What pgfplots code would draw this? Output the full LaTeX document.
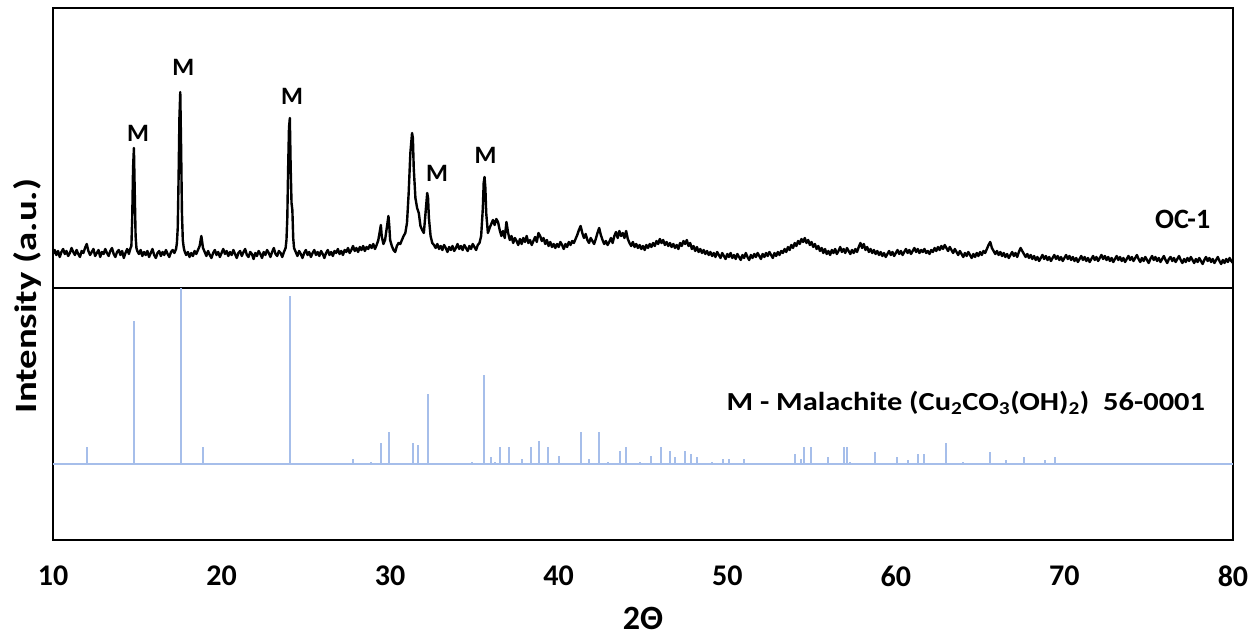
\documentclass[border=0pt]{standalone}
\usepackage{fontspec}
\setmainfont{Carlito}
\usepackage{graphicx}
\usepackage{pgfplots}
\pgfplotsset{compat=1.18}
\definecolor{stick}{RGB}{166,190,234}

\pgfplotstableread[row sep=\\]{
x y\\
10.0 34\\ 10.1 38\\ 10.2 33\\ 10.3 37\\ 10.4 31\\ 10.5 36\\ 10.6 39\\ 10.7 34\\ 10.8 37\\ 10.9 32\\
11.0 35\\ 11.1 40\\ 11.2 36\\ 11.3 33\\ 11.4 38\\ 11.5 34\\ 11.6 31\\ 11.7 37\\ 11.8 35\\ 11.9 40\\
12.0 44\\ 12.1 37\\ 12.2 33\\ 12.3 36\\ 12.4 39\\ 12.5 32\\ 12.6 35\\ 12.7 38\\ 12.8 31\\ 12.9 36\\
13.0 34\\ 13.1 39\\ 13.2 35\\ 13.3 32\\ 13.4 37\\ 13.5 40\\ 13.6 34\\ 13.7 31\\ 13.8 36\\ 13.9 38\\
14.0 33\\ 14.1 37\\ 14.2 30\\ 14.3 35\\ 14.4 39\\ 14.5 34\\ 14.6 40\\
14.65 42\\ 14.70 70\\ 14.75 120\\ 14.80 140\\ 14.85 95\\ 14.90 52\\ 14.95 40\\
15.0 37\\ 15.1 34\\ 15.2 38\\ 15.3 32\\ 15.4 36\\ 15.5 33\\ 15.6 37\\ 15.7 31\\ 15.8 35\\ 15.9 39\\
16.0 33\\ 16.1 30\\ 16.2 35\\ 16.3 37\\ 16.4 32\\ 16.5 36\\ 16.6 33\\ 16.7 38\\ 16.8 34\\ 16.9 31\\
17.0 36\\ 17.1 38\\ 17.2 35\\ 17.3 39\\ 17.35 45\\ 17.40 60\\ 17.45 110\\ 17.50 170\\ 17.55 196\\
17.60 140\\ 17.65 75\\ 17.70 48\\ 17.75 41\\ 17.8 37\\ 17.9 33\\
18.0 36\\ 18.1 31\\ 18.2 35\\ 18.3 32\\ 18.4 37\\ 18.5 34\\ 18.6 38\\ 18.7 42\\ 18.8 52\\ 18.9 40\\
19.0 36\\ 19.1 32\\ 19.2 37\\ 19.3 33\\ 19.4 30\\ 19.5 35\\ 19.6 38\\ 19.7 33\\ 19.8 36\\ 19.9 31\\
20.0 35\\ 20.1 39\\ 20.2 34\\ 20.3 37\\ 20.4 32\\ 20.5 36\\ 20.6 33\\ 20.7 38\\ 20.8 34\\ 20.9 30\\
21.0 35\\ 21.1 37\\ 21.2 32\\ 21.3 36\\ 21.4 39\\ 21.5 33\\ 21.6 31\\ 21.7 36\\ 21.8 34\\ 21.9 29\\
22.0 35\\ 22.1 32\\ 22.2 37\\ 22.3 34\\ 22.4 30\\ 22.5 36\\ 22.6 33\\ 22.7 38\\ 22.8 35\\ 22.9 31\\
23.0 36\\ 23.1 40\\ 23.2 34\\ 23.3 32\\ 23.4 37\\ 23.5 35\\ 23.6 31\\ 23.7 36\\ 23.8 40\\ 23.85 48\\
23.90 70\\ 23.95 120\\ 24.00 160\\ 24.05 170\\ 24.10 120\\ 24.15 85\\ 24.20 78\\ 24.25 50\\ 24.30 40\\
24.4 36\\ 24.5 32\\ 24.6 37\\ 24.7 34\\ 24.8 30\\ 24.9 35\\
25.0 38\\ 25.1 33\\ 25.2 36\\ 25.3 31\\ 25.4 35\\ 25.5 38\\ 25.6 33\\ 25.7 36\\ 25.8 32\\ 25.9 37\\
26.0 34\\ 26.1 30\\ 26.2 35\\ 26.3 38\\ 26.4 33\\ 26.5 36\\ 26.6 32\\ 26.7 37\\ 26.8 35\\ 26.9 39\\
27.0 34\\ 27.1 37\\ 27.2 33\\ 27.3 38\\ 27.4 36\\ 27.5 40\\ 27.6 35\\ 27.7 38\\ 27.8 42\\ 27.9 37\\
28.0 40\\ 28.1 36\\ 28.2 41\\ 28.3 38\\ 28.4 42\\ 28.5 37\\ 28.6 41\\ 28.7 39\\ 28.8 43\\ 28.9 40\\
29.0 44\\ 29.1 39\\ 29.2 43\\ 29.3 48\\ 29.4 58\\ 29.45 63\\ 29.5 52\\ 29.6 44\\ 29.7 48\\ 29.8 60\\
29.9 72\\ 29.95 62\\ 30.0 48\\ 30.1 42\\ 30.2 38\\ 30.3 36\\ 30.4 42\\ 30.5 45\\ 30.6 44\\ 30.7 48\\
30.8 52\\ 30.9 55\\ 31.0 65\\ 31.1 95\\ 31.2 135\\ 31.3 155\\ 31.35 150\\ 31.4 120\\ 31.5 90\\ 31.6 80\\
31.7 75\\ 31.8 62\\ 31.9 58\\ 32.0 55\\ 32.1 75\\ 32.2 95\\ 32.25 90\\ 32.3 70\\ 32.4 52\\ 32.5 45\\
32.6 43\\ 32.7 40\\ 32.8 44\\ 32.9 39\\ 33.0 42\\ 33.1 38\\ 33.2 43\\ 33.3 40\\ 33.4 36\\ 33.5 41\\
33.6 38\\ 33.7 42\\ 33.8 37\\ 33.9 40\\ 34.0 44\\ 34.1 39\\ 34.2 42\\ 34.3 38\\ 34.4 43\\ 34.5 40\\
34.6 37\\ 34.7 42\\ 34.8 39\\ 34.9 44\\ 35.0 41\\ 35.1 38\\ 35.2 43\\ 35.3 45\\ 35.4 52\\ 35.5 80\\
35.55 105\\ 35.6 111\\ 35.65 100\\ 35.7 75\\ 35.8 55\\ 35.9 60\\ 36.0 64\\ 36.1 68\\ 36.2 63\\ 36.3 69\\
36.4 66\\ 36.5 58\\ 36.6 52\\ 36.7 57\\ 36.8 50\\ 36.9 66\\ 37.0 55\\ 37.1 48\\ 37.2 52\\ 37.3 45\\
37.4 50\\ 37.5 47\\ 37.6 43\\ 37.7 49\\ 37.8 44\\ 37.9 50\\ 38.0 46\\ 38.1 52\\ 38.2 45\\ 38.3 48\\
38.4 43\\ 38.5 47\\ 38.6 51\\ 38.7 46\\ 38.8 55\\ 38.9 52\\ 39.0 47\\ 39.1 50\\ 39.2 44\\ 39.3 48\\
39.4 42\\ 39.5 46\\ 39.6 41\\ 39.7 44\\ 39.8 40\\ 39.9 44\\ 40.0 41\\ 40.1 46\\ 40.2 43\\ 40.3 39\\
40.4 44\\ 40.5 41\\ 40.6 46\\ 40.7 43\\ 40.8 47\\ 40.9 45\\ 41.0 49\\ 41.1 53\\ 41.2 58\\ 41.3 62\\
41.4 55\\ 41.5 50\\ 41.6 54\\ 41.7 48\\ 41.8 45\\ 41.9 50\\ 42.0 47\\ 42.1 44\\ 42.2 49\\ 42.3 55\\
42.4 60\\ 42.5 53\\ 42.6 48\\ 42.7 44\\ 42.8 47\\ 42.9 43\\ 43.0 46\\ 43.1 50\\ 43.2 45\\ 43.3 52\\
43.4 56\\ 43.5 50\\ 43.6 57\\ 43.7 52\\ 43.8 55\\ 43.9 50\\ 44.0 57\\ 44.1 49\\ 44.2 45\\ 44.3 42\\
44.4 46\\ 44.5 41\\ 44.6 44\\ 44.7 40\\ 44.8 43\\ 44.9 39\\ 45.0 42\\ 45.1 38\\ 45.2 43\\ 45.3 40\\
45.4 44\\ 45.5 41\\ 45.6 45\\ 45.7 42\\ 45.8 47\\ 45.9 44\\ 46.0 49\\ 46.1 45\\ 46.2 48\\ 46.3 43\\
46.4 46\\ 46.5 42\\ 46.6 45\\ 46.7 41\\ 46.8 44\\ 46.9 40\\ 47.0 43\\ 47.1 39\\ 47.2 45\\ 47.3 42\\
47.4 47\\ 47.5 44\\ 47.6 48\\ 47.7 42\\ 47.8 45\\ 47.9 39\\ 48.0 42\\ 48.1 37\\ 48.2 41\\ 48.3 36\\
48.4 39\\ 48.5 35\\ 48.6 38\\ 48.7 34\\ 48.8 37\\ 48.9 33\\ 49.0 36\\ 49.1 32\\ 49.2 35\\ 49.3 31\\
49.4 36\\ 49.5 33\\ 49.6 30\\ 49.7 35\\ 49.8 32\\ 49.9 29\\ 50.0 34\\ 50.1 31\\ 50.2 35\\ 50.3 30\\
50.4 33\\ 50.5 29\\ 50.6 34\\ 50.7 31\\ 50.8 28\\ 50.9 33\\ 51.0 30\\ 51.1 35\\ 51.2 31\\ 51.3 28\\
51.4 33\\ 51.5 30\\ 51.6 34\\ 51.7 31\\ 51.8 35\\ 51.9 32\\ 52.0 29\\ 52.1 34\\ 52.2 31\\ 52.3 35\\
52.4 32\\ 52.5 36\\ 52.6 33\\ 52.7 30\\ 52.8 35\\ 52.9 32\\ 53.0 36\\ 53.1 33\\ 53.2 37\\ 53.3 35\\
53.4 39\\ 53.5 36\\ 53.6 41\\ 53.7 38\\ 53.8 43\\ 53.9 40\\ 54.0 45\\ 54.1 42\\ 54.2 47\\ 54.3 44\\
54.4 49\\ 54.5 46\\ 54.6 50\\ 54.7 45\\ 54.8 48\\ 54.9 43\\ 55.0 46\\ 55.1 41\\ 55.2 44\\ 55.3 39\\
55.4 42\\ 55.5 37\\ 55.6 40\\ 55.7 35\\ 55.8 39\\ 55.9 34\\ 56.0 37\\ 56.1 33\\ 56.2 38\\ 56.3 35\\
56.4 39\\ 56.5 34\\ 56.6 37\\ 56.7 41\\ 56.8 36\\ 56.9 39\\ 57.0 35\\ 57.1 40\\ 57.2 37\\ 57.3 34\\
57.4 38\\ 57.5 35\\ 57.6 39\\ 57.7 36\\ 57.8 41\\ 57.9 45\\ 58.0 40\\ 58.1 44\\ 58.2 38\\ 58.3 41\\
58.4 36\\ 58.5 39\\ 58.6 35\\ 58.7 38\\ 58.8 34\\ 58.9 37\\ 59.0 33\\ 59.1 36\\ 59.2 32\\ 59.3 35\\
59.4 31\\ 59.5 34\\ 59.6 37\\ 59.7 33\\ 59.8 36\\ 59.9 32\\ 60.0 35\\ 60.1 38\\ 60.2 34\\ 60.3 37\\
60.4 33\\ 60.5 36\\ 60.6 39\\ 60.7 35\\ 60.8 38\\ 60.9 34\\ 61.0 37\\ 61.1 40\\ 61.2 36\\ 61.3 39\\
61.4 35\\ 61.5 38\\ 61.6 36\\ 61.7 39\\ 61.8 35\\ 61.9 37\\ 62.0 34\\ 62.1 38\\ 62.2 36\\ 62.3 40\\
62.4 37\\ 62.5 41\\ 62.6 38\\ 62.7 42\\ 62.8 39\\ 62.9 43\\ 63.0 40\\ 63.1 37\\ 63.2 41\\ 63.3 38\\
63.4 35\\ 63.5 39\\ 63.6 36\\ 63.7 33\\ 63.8 37\\ 63.9 34\\ 64.0 31\\ 64.1 35\\ 64.2 32\\ 64.3 36\\
64.4 33\\ 64.5 30\\ 64.6 34\\ 64.7 31\\ 64.8 35\\ 64.9 32\\ 65.0 36\\ 65.1 33\\ 65.2 37\\ 65.3 35\\
65.4 39\\ 65.5 43\\ 65.6 46\\ 65.7 40\\ 65.8 37\\ 65.9 34\\ 66.0 37\\ 66.1 33\\ 66.2 36\\ 66.3 32\\
66.4 35\\ 66.5 31\\ 66.6 34\\ 66.7 30\\ 66.8 33\\ 66.9 36\\ 67.0 32\\ 67.1 35\\ 67.2 31\\ 67.3 36\\
67.4 40\\ 67.5 37\\ 67.6 34\\ 67.7 31\\ 67.8 34\\ 67.9 30\\ 68.0 33\\ 68.1 29\\ 68.2 32\\ 68.3 28\\
68.4 31\\ 68.5 27\\ 68.6 30\\ 68.7 33\\ 68.8 29\\ 68.9 32\\ 69.0 28\\ 69.1 31\\ 69.2 27\\ 69.3 30\\
69.4 33\\ 69.5 29\\ 69.6 32\\ 69.7 28\\ 69.8 31\\ 69.9 27\\ 70.0 30\\ 70.1 33\\ 70.2 29\\ 70.3 32\\
70.4 28\\ 70.5 31\\ 70.6 27\\ 70.7 30\\ 70.8 26\\ 70.9 29\\ 71.0 32\\ 71.1 28\\ 71.2 31\\ 71.3 27\\
71.4 30\\ 71.5 26\\ 71.6 29\\ 71.7 32\\ 71.8 28\\ 71.9 31\\ 72.0 27\\ 72.1 30\\ 72.2 33\\ 72.3 29\\
72.4 32\\ 72.5 28\\ 72.6 31\\ 72.7 27\\ 72.8 30\\ 72.9 26\\ 73.0 29\\ 73.1 32\\ 73.2 28\\ 73.3 31\\
73.4 27\\ 73.5 30\\ 73.6 26\\ 73.7 29\\ 73.8 32\\ 73.9 28\\ 74.0 31\\ 74.1 27\\ 74.2 30\\ 74.3 33\\
74.4 29\\ 74.5 26\\ 74.6 30\\ 74.7 27\\ 74.8 31\\ 74.9 28\\ 75.0 25\\ 75.1 29\\ 75.2 32\\ 75.3 28\\
75.4 31\\ 75.5 27\\ 75.6 30\\ 75.7 26\\ 75.8 29\\ 75.9 32\\ 76.0 28\\ 76.1 25\\ 76.2 29\\ 76.3 31\\
76.4 27\\ 76.5 30\\ 76.6 26\\ 76.7 29\\ 76.8 32\\ 76.9 28\\ 77.0 25\\ 77.1 29\\ 77.2 26\\ 77.3 30\\
77.4 27\\ 77.5 31\\ 77.6 28\\ 77.7 25\\ 77.8 29\\ 77.9 26\\ 78.0 30\\ 78.1 27\\ 78.2 24\\ 78.3 28\\
78.4 31\\ 78.5 27\\ 78.6 30\\ 78.7 26\\ 78.8 29\\ 78.9 25\\ 79.0 28\\ 79.1 31\\ 79.2 27\\ 79.3 24\\
79.4 28\\ 79.5 25\\ 79.6 29\\ 79.7 26\\ 79.8 30\\ 79.9 27\\ 80.0 25\\
}\trace

\pgfplotstableread[row sep=\\]{
x h\\
12.00 17.3\\ 14.80 143.3\\ 17.57 176\\ 18.88 17.3\\ 24.06 168.3\\ 27.81 4.7\\ 28.86 2.3\\
29.47 21.3\\ 29.91 31.7\\ 31.35 21\\ 31.65 19\\ 32.25 70\\ 34.83 2.3\\ 35.58 88.7\\
35.98 7\\ 36.22 2.3\\ 36.49 17.3\\ 37.06 17.3\\ 37.80 4.7\\ 38.35 17.3\\ 38.83 23.3\\
39.34 17.3\\ 40.01 8\\ 41.33 31.7\\ 41.81 4.7\\ 42.38 31.7\\ 42.92 2.3\\ 43.61 12.7\\
43.97 17.3\\ 44.82 2.3\\ 45.49 8\\ 46.04 17.3\\ 46.60 12.7\\ 46.89 7\\ 47.50 12.7\\
47.82 10.3\\ 48.18 7\\ 49.10 2.3\\ 49.72 4.7\\ 50.11 4.7\\ 50.97 4.7\\ 54.01 10.3\\
54.35 4.7\\ 54.58 17.3\\ 54.98 17.3\\ 55.95 7\\ 56.94 17.3\\ 57.08 17.3\\ 57.31 2.3\\
58.75 12.3\\ 60.04 7\\ 60.73 4\\ 61.33 10\\ 61.66 10\\ 62.95 21\\ 64.00 2.3\\
65.58 12.3\\ 66.51 4\\ 67.62 7.3\\ 68.84 4\\ 69.42 7.3\\
}\sticks

\begin{document}
\begin{tikzpicture}
\useasboundingbox (0,0) rectangle (1260pt,636pt);
\begin{axis}[at={(53pt,348pt)}, anchor=south west,
  width=1180pt, height=280pt, scale only axis,
  xmin=10, xmax=80, ymin=0, ymax=280,
  xtick=\empty, ytick=\empty, clip mode=individual,
  axis line style={line width=1.8pt}]
\addplot[black, line width=2.4pt, line join=round] table[x=x,y=y] {\trace};
\node[font=\bfseries\fontsize{25}{25}\selectfont] at (axis cs:15.04,155) {M};
\node[font=\bfseries\fontsize{25}{25}\selectfont] at (axis cs:17.73,221) {M};
\node[font=\bfseries\fontsize{25}{25}\selectfont] at (axis cs:24.18,192) {M};
\node[font=\bfseries\fontsize{25}{25}\selectfont] at (axis cs:32.78,115) {M};
\node[font=\bfseries\fontsize{25}{25}\selectfont] at (axis cs:35.66,133) {M};
\node[font=\bfseries\fontsize{28}{28}\selectfont] at (axis cs:77.02,69) {OC-1};
\end{axis}
\begin{axis}[at={(53pt,96pt)}, anchor=south west,
  width=1180pt, height=252pt, scale only axis,
  xmin=10, xmax=80, ymin=-76, ymax=176,
  xtick={10,20,...,80}, ytick=\empty, clip mode=individual,
  major tick length=0pt,
  /pgf/number format/assume math mode=true,
  xticklabel style={font=\bfseries\fontsize{30}{30}\selectfont, inner sep=0pt, yshift=-26pt},
  axis line style={line width=1.8pt}]
\addplot[stick, line width=2pt] coordinates {(10,0) (80,0)};
\addplot[stick, line width=2pt, ycomb] table[x=x,y=h] {\sticks};
\node[font=\bfseries\fontsize{26}{26}\selectfont, anchor=base] at (axis cs:64.15,53.3)
  {\scalebox{1.17}[1]{M - Malachite (Cu\textsubscript{2}CO\textsubscript{3}(OH)\textsubscript{2})\ \ 56-0001}};
\end{axis}
\node[font=\bfseries\fontsize{34}{34}\selectfont] at (643pt,18pt) {2Θ};
\node[rotate=90, font=\bfseries\fontsize{31}{31}\selectfont] at (27pt,340pt) {\scalebox{1.25}[1]{Intensity (a.u.)}};
\end{tikzpicture}
\end{document}
